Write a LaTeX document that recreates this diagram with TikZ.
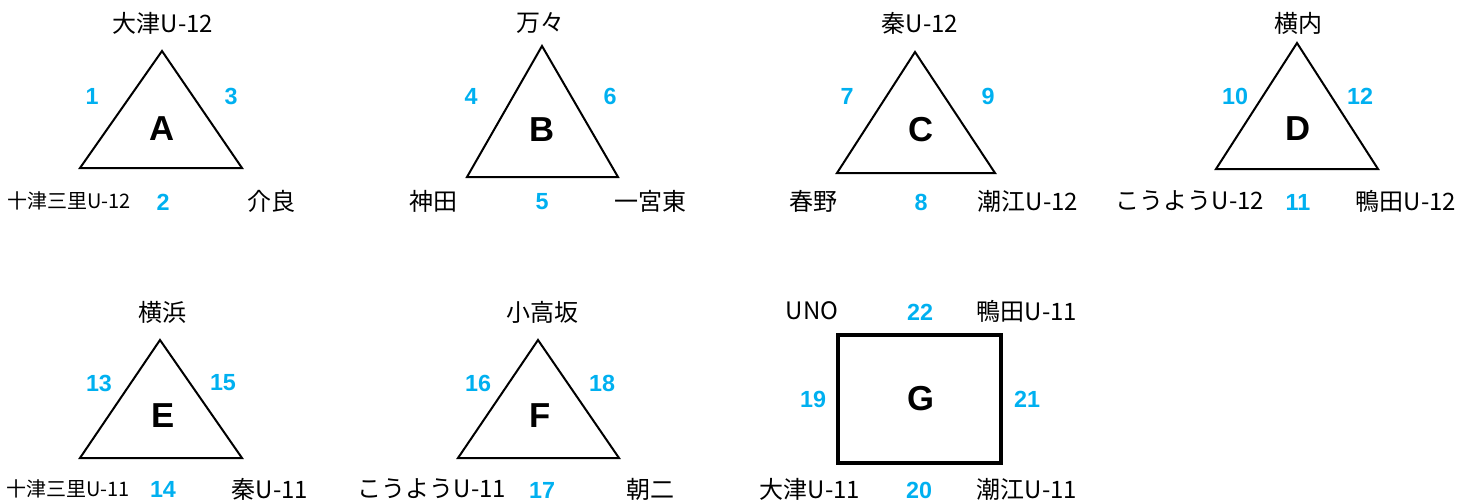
\documentclass[tikz,border=0pt]{standalone}
\usepackage{fontspec}
\setmainfont{Noto Sans CJK JP}
\newfontfamily\numfont{Liberation Sans}
\definecolor{numblue}{HTML}{00B0F0}
\begin{document}
\begin{tikzpicture}[x=0.75pt,y=-0.75pt,
  lbl/.style={inner sep=0pt,font=\fontsize{18}{18}\selectfont},
  slbl/.style={inner sep=0pt,font=\fontsize{15}{15}\selectfont},
  num/.style={inner sep=0pt,text=numblue,font=\numfont\bfseries\fontsize{17.5}{17.5}\selectfont},
  big/.style={inner sep=0pt,font=\numfont\bfseries\fontsize{26}{26}\selectfont},
  tri/.style={draw=black,line width=1.5pt,line join=miter},
  box/.style={draw=black,line width=3pt}]
\useasboundingbox (0,0) rectangle (1465,501);
% ---------- A ----------
\coordinate (At) at (162,51); \coordinate (Al) at (80,168); \coordinate (Ar) at (242,168);
\draw[tri] (At) -- (Al) -- (Ar) -- cycle;
\node[lbl] (Atop) at (163,23) {大津U-12};
\node[num] (A1) at (92,96) {1};
\node[num] (A3) at (231,96) {3};
\node[big] (AA) at (162,129) {A};
\node[slbl] (Al1) at (69,201) {十津三里U-12};
\node[num] (A2) at (163,202) {2};
\node[lbl] (Ar1) at (271,201) {介良};
% ---------- B ----------
\coordinate (Bt) at (542,46); \coordinate (Bl) at (467,177); \coordinate (Br) at (618,177);
\draw[tri] (Bt) -- (Bl) -- (Br) -- cycle;
\node[lbl] (Btop) at (540,23) {万々};
\node[num] (B4) at (471,96) {4};
\node[num] (B6) at (610,96) {6};
\node[big] (BB) at (542,130) {B};
\node[lbl] (Bl1) at (433,201) {神田};
\node[num] (B5) at (542,202) {5};
\node[lbl] (Br1) at (650,201) {一宮東};
% ---------- C ----------
\coordinate (Ct) at (915,52); \coordinate (Cl) at (837,173); \coordinate (Cr) at (995,173);
\draw[tri] (Ct) -- (Cl) -- (Cr) -- cycle;
\node[lbl] (Ctop) at (920,23) {秦U-12};
\node[num] (C7) at (847,96) {7};
\node[num] (C9) at (988,96) {9};
\node[big] (CC) at (921,130) {C};
\node[lbl] (Cl1) at (813,201) {春野};
\node[num] (C8) at (921,202) {8};
\node[lbl] (Cr1) at (1028,201) {潮江U-12};
% ---------- D ----------
\coordinate (Dt) at (1297,43); \coordinate (Dl) at (1216,169); \coordinate (Dr) at (1378,169);
\draw[tri] (Dt) -- (Dl) -- (Dr) -- cycle;
\node[lbl] (Dtop) at (1298,23) {横内};
\node[num] (D10) at (1235,96) {10};
\node[num] (D12) at (1360,96) {12};
\node[big] (DD) at (1298,129) {D};
\node[lbl] (Dl1) at (1190,201) {こうようU-12};
\node[num] (D11) at (1298,202) {11};
\node[lbl] (Dr1) at (1406,201) {鴨田U-12};
% ---------- E ----------
\coordinate (Et) at (160,340); \coordinate (El) at (80,458); \coordinate (Er) at (242,458);
\draw[tri] (Et) -- (El) -- (Er) -- cycle;
\node[lbl] (Etop) at (162,312) {横浜};
\node[num] (E13) at (99,383) {13};
\node[num] (E15) at (223,383) {15};
\node[big] (EE) at (163,416) {E};
\node[slbl] (El1) at (68,489) {十津三里U-11};
\node[num] (E14) at (163,489) {14};
\node[lbl] (Er1) at (270,489) {秦U-11};
% ---------- F ----------
\coordinate (Ft) at (538,340); \coordinate (Fl) at (458,458); \coordinate (Fr) at (619,458);
\draw[tri] (Ft) -- (Fl) -- (Fr) -- cycle;
\node[lbl] (Ftop) at (542,312) {小高坂};
\node[num] (F16) at (478,383) {16};
\node[num] (F18) at (602,383) {18};
\node[big] (FF) at (540,416) {F};
\node[lbl] (Fl1) at (432,489) {こうようU-11};
\node[num] (F17) at (542,490) {17};
\node[lbl] (Fr1) at (650,489) {朝二};
% ---------- G ----------
\coordinate (Gtl) at (838,335); \coordinate (Gbr) at (1001,463);
\draw[box] (Gtl) rectangle (Gbr);
\node[lbl] (Gtl1) at (812,311) {UNO};
\node[num] (G22) at (920,312) {22};
\node[lbl] (Gtr1) at (1027,311) {鴨田U-11};
\node[num] (G19) at (813,399) {19};
\node[big] (GG) at (921,399) {G};
\node[num] (G21) at (1027,399) {21};
\node[lbl] (Gbl1) at (810,489) {大津U-11};
\node[num] (G20) at (919,490) {20};
\node[lbl] (Gbr1) at (1027,489) {潮江U-11};
\end{tikzpicture}
\end{document}
